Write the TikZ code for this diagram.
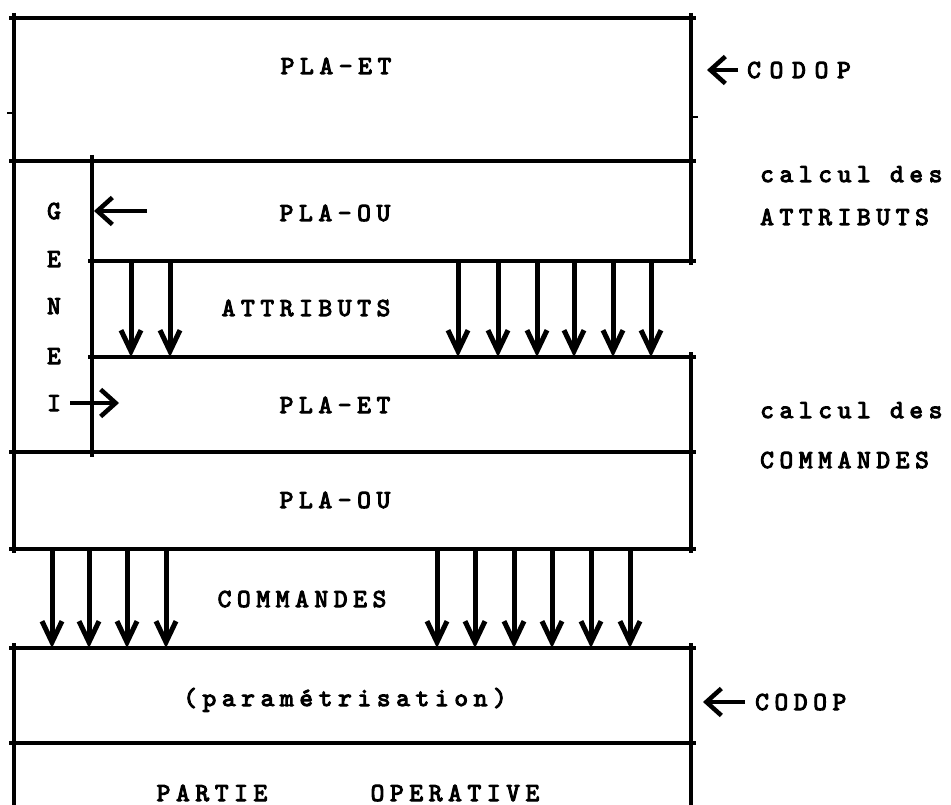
\documentclass[tikz,border=0pt]{standalone}
\usepackage{fontspec}
\newfontfamily\tw{lmmono10-regular.otf}[LetterSpace=22,FakeBold=4]
\newfontfamily\twwide{lmmono10-regular.otf}[LetterSpace=34,FakeBold=4]
\newfontfamily\twplain{lmmono10-regular.otf}[FakeBold=4]
\usetikzlibrary{arrows.meta}
\begin{document}
\begin{tikzpicture}[x=1pt,y=-1pt,
  lbl/.style={font={\tw\fontsize{26}{28}\selectfont}, inner sep=0pt, anchor=base},
  rlbl/.style={lbl, anchor=base west},
  wlbl/.style={font={\twwide\fontsize{26}{28}\selectfont}, inner sep=0pt, anchor=base west},
  letter/.style={font={\twplain\fontsize{26}{28}\selectfont}, inner sep=0pt, anchor=base},
  wall/.style={line width=4.5pt},
  tick/.style={line width=2pt},
  dn/.style={line width=5pt, -{Straight Barb[length=21pt,width=20pt]}},
  side/.style={line width=4.5pt, -{Straight Barb[length=15pt,width=27pt]}}
]
\useasboundingbox (0,0) rectangle (951,805);

% frame lines
\draw[wall] (14,13) -- (14,553);
\draw[wall] (9,18) -- (696,18);
\draw[wall] (691,13) -- (691,265);
\draw[wall] (9,161) -- (696,161);
\draw[wall] (92,155) -- (92,457);
\draw[wall] (88,261) -- (696,261);
\draw[wall] (88,357) -- (696,357);
\draw[wall] (691,352) -- (691,553);
\draw[wall] (9,452) -- (696,452);
\draw[wall] (9,549) -- (696,549);
\draw[wall] (14,643) -- (14,805);
\draw[wall] (691,643) -- (691,805);
\draw[wall] (9,648) -- (696,648);
\draw[wall] (9,743) -- (696,743);
\draw[tick] (7,113) -- (14,113);
\draw[tick] (691,117) -- (698,117);

% labels in the blocks
\node[lbl] (plaet1) at (336,74) {PLA-ET};
\node[lbl] (plaou1) at (335,221) {PLA-OU};
\node[lbl] (attr) at (306,316) {ATTRIBUTS};
\node[lbl] (plaet2) at (335,413) {PLA-ET};
\node[lbl] (plaou2) at (335,508) {PLA-OU};
\node[lbl] (cmd) at (302,607) {COMMANDES};
\node[lbl] (param) at (345,706) {(paramétrisation)};
\node[lbl] (partie) at (212,801) {PARTIE};
\node[lbl] (operative) at (455,801) {OPERATIVE};

% GENEI
\node[letter] (g1) at (54,219) {G};
\node[letter] (g2) at (54,267) {E};
\node[letter] (g3) at (54,314) {N};
\node[letter] (g4) at (54,364) {E};
\node[letter] (g5) at (54,411) {I};

% right-side labels
\node[wlbl] (codop1) at (747,78) {CODOP};
\node[rlbl] (calc1) at (760,182) {calcul des};
\node[rlbl] (attr2) at (760,225) {ATTRIBUTS};
\node[rlbl] (calc2) at (760,418) {calcul des};
\node[rlbl] (cmd2) at (760,468) {COMMANDES};
\node[rlbl] (codop2) at (755,710) {CODOP};

% side arrows
\coordinate (gS) at (147,211);
\coordinate (gT) at (94,211);
\draw[side] (gS) -- (gT);
\coordinate (iS) at (70,403);
\coordinate (iT) at (119,403);
\draw[side] (iS) -- (iT);
\coordinate (c1S) at (738,70);
\coordinate (c1T) at (707,70);
\draw[side] (c1S) -- (c1T);
\coordinate (c2S) at (745,702);
\coordinate (c2T) at (703,702);
\draw[side] (c2S) -- (c2T);

% attribute arrows
\foreach \x [count=\i] in {131,170,458,498,537,574,613,651}{
  \coordinate (aT\i) at (\x,261);
  \coordinate (aB\i) at (\x,357);
  \draw[dn] (aT\i) -- (aB\i);
}
% command arrows
\foreach \x [count=\i] in {52,89,127,166,437,475,514,552,591,630}{
  \coordinate (cT\i) at (\x,549);
  \coordinate (cB\i) at (\x,648);
  \draw[dn] (cT\i) -- (cB\i);
}
\end{tikzpicture}
\end{document}
